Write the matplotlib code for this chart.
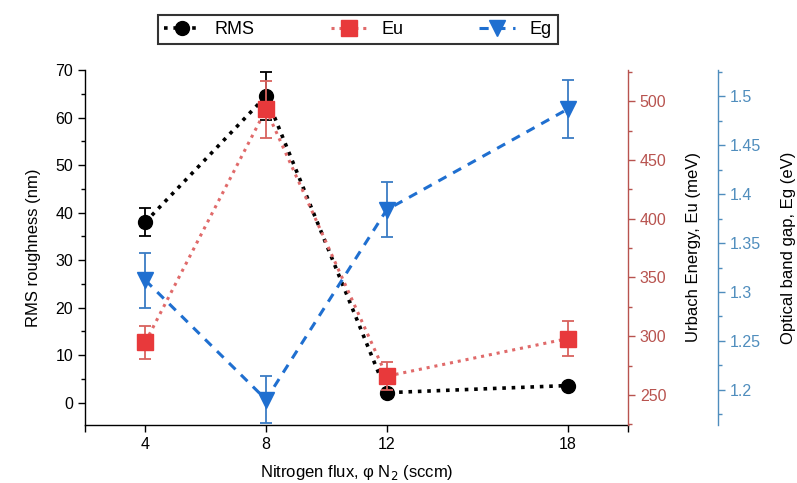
import numpy as np
import matplotlib
matplotlib.use("Agg")
import matplotlib.pyplot as plt
from matplotlib.ticker import MultipleLocator
from matplotlib.lines import Line2D

plt.rcParams['font.family'] = ['Liberation Sans', 'DejaVu Sans']

# data
flux = [4, 8, 12, 18]
rms = [38.0, 64.5, 2.1, 3.6]
rms_err = [3.0, 5.0, 0.0, 0.0]
eu = [295, 493, 266, 298]
eu_err = [14, 24, 12, 15]
eg = [1.312, 1.190, 1.384, 1.487]
eg_err = [0.028, 0.024, 0.028, 0.030]

xticks = [2, 4, 8, 12, 18, 20]
xtick_labels = ['', '4', '8', '12', '18', '']

red_ax = '#b8534f'
blue_ax = '#4f8dbd'
eu_col = '#e8393b'
eu_line = '#e06a6a'
eg_col = '#1f6fd0'

fig = plt.figure(figsize=(7.97, 4.83), dpi=100)
ax = fig.add_axes([85/797, 1-425/483, (628-85)/797, (425-70)/483])
ax2 = ax.twinx()
ax3 = ax.twinx()
ax3.spines['right'].set_position(('outward', 90*0.72))

rms_style = dict(color='black', ls=(0, (1, 1.6)), lw=2.6, marker='o', ms=10)
eu_style = dict(color=eu_line, mfc=eu_col, mec=eu_col, ls=(0, (1, 1.6)), lw=2.2, marker='s', ms=11)
eg_style = dict(color=eg_col, ls=(0, (3, 2.5)), lw=2.2, marker='v', ms=12)

# RMS
ax.errorbar(flux, rms, yerr=rms_err, capsize=4, elinewidth=1.3, capthick=1.3,
            ecolor='black', zorder=3, **rms_style)
# Eu
ax2.errorbar(flux, eu, yerr=eu_err, capsize=4, elinewidth=1.3, capthick=1.3,
             ecolor='#d9625e', zorder=4, **eu_style)
# Eg
ax3.errorbar(flux, eg, yerr=eg_err, capsize=4, elinewidth=1.3, capthick=1.3,
             ecolor='#3a7cc4', zorder=4, **eg_style)

ax.set_xlim(2, 20)
ax.set_ylim(-4.7, 70)
ax2.set_ylim(224.5, 526.5)
ax3.set_ylim(1.164, 1.527)

ax.set_xticks(xticks)
ax.set_xticklabels(xtick_labels)
ax.yaxis.set_major_locator(MultipleLocator(10))
ax.yaxis.set_minor_locator(MultipleLocator(5))
ax2.yaxis.set_major_locator(MultipleLocator(50))
ax2.yaxis.set_minor_locator(MultipleLocator(25))
ax3.yaxis.set_major_locator(MultipleLocator(0.05))
ax3.yaxis.set_minor_locator(MultipleLocator(0.025))
ax3.yaxis.set_major_formatter(plt.FuncFormatter(lambda v, p: ('%.2f' % v).rstrip('0')))

for a in (ax, ax2, ax3):
    a.tick_params(which='major', length=5, width=1, labelsize=11.5)
    a.tick_params(which='minor', length=3, width=1)
    for s in a.spines.values():
        s.set_linewidth(1.0)

ax.spines['top'].set_visible(False)
ax2.spines['top'].set_visible(False)
ax3.spines['top'].set_visible(False)
ax2.spines['left'].set_visible(False)
ax3.spines['left'].set_visible(False)
ax3.spines['bottom'].set_visible(False)
ax2.spines['bottom'].set_visible(False)
ax.spines['right'].set_visible(False)

ax2.spines['right'].set_color(red_ax)
ax2.tick_params(axis='y', which='both', colors=red_ax)
ax3.spines['right'].set_color(blue_ax)
ax3.tick_params(axis='y', which='both', colors=blue_ax)

ax.set_ylabel('RMS roughness (nm)', fontsize=12, labelpad=10)
ax.set_xlabel('Nitrogen flux, φ N$_2$ (sccm)', fontsize=12, labelpad=8)
ax2.set_ylabel('Urbach Energy, Eu (meV)', fontsize=12, labelpad=14)
ax3.set_ylabel('Optical band gap, Eg (eV)', fontsize=12, labelpad=14)

handles = [Line2D([], [], **rms_style), Line2D([], [], **eu_style),
           Line2D([], [], **eg_style)]
leg = fig.legend(handles, ['RMS', 'Eu', 'Eg'], loc='center',
                 bbox_to_anchor=(358/797, 1-29.5/483), ncol=3, fontsize=13,
                 frameon=True, fancybox=False, edgecolor='black',
                 handlelength=2.0, columnspacing=4.2, borderpad=0.35)
leg.get_frame().set_linewidth(1.5)

fig.savefig('out.png', dpi=100)
